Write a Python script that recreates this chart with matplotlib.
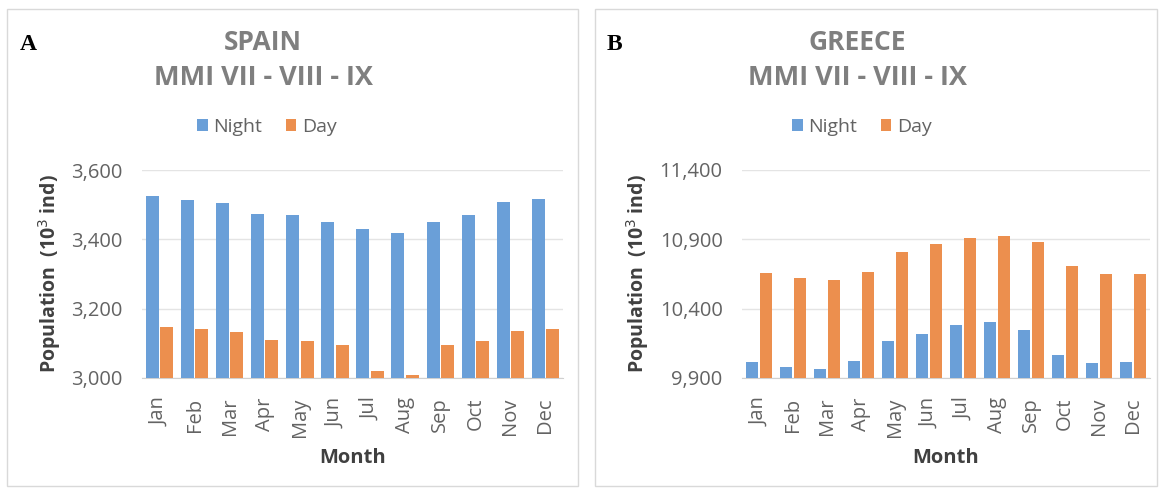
import numpy as np
import matplotlib
matplotlib.use('Agg')
from matplotlib import pyplot as plt
from matplotlib import rcParams
from matplotlib.patches import Rectangle
from matplotlib.ticker import FuncFormatter

rcParams['font.family'] = ['Open Sans', 'DejaVu Sans']

months = ['Jan', 'Feb', 'Mar', 'Apr', 'May', 'Jun',
          'Jul', 'Aug', 'Sep', 'Oct', 'Nov', 'Dec']

# Spain, 10^3 inhabitants
spain_night = [3526, 3513, 3504, 3472, 3469, 3449, 3431, 3419, 3449, 3469, 3509, 3516]
spain_day = [3148, 3141, 3132, 3110, 3108, 3095, 3021, 3010, 3095, 3108, 3137, 3142]

# Greece, 10^3 inhabitants
greece_night = [10013, 9977, 9965, 10025, 10167, 10217, 10282, 10301, 10244, 10068, 10006, 10013]
greece_day = [10655, 10621, 10607, 10664, 10806, 10864, 10907, 10924, 10883, 10705, 10648, 10648]

blue = '#6A9FD8'
orange = '#EC8F4E'
gray_txt = '#636363'

W, H = 1161, 488
fig = plt.figure(figsize=(W / 100, H / 100), dpi=100)

def px(x0, y0, x1, y1):
    return [x0 / W, 1 - y1 / H, (x1 - x0) / W, (y1 - y0) / H]

# panel frames
for x0, x1 in [(7, 578), (595, 1157)]:
    fig.patches.append(Rectangle((x0 / W, 1 - 486 / H), (x1 - x0) / W, (486 - 9) / H,
                                 transform=fig.transFigure, fill=False,
                                 edgecolor='#d9d9d9', linewidth=1))

panels = [
    dict(name='SPAIN', tag='A', night=spain_night, day=spain_day,
         box=(142, 170, 563, 378), ylim=(3000, 3600), step=200,
         xc=263, legc=267, tagx=20),
    dict(name='GREECE', tag='B', night=greece_night, day=greece_day,
         box=(742, 170, 1150, 378), ylim=(9900, 11400), step=500,
         xc=857, legc=862, tagx=607),
]

x = np.arange(len(months))
bw = 0.37
for p in panels:
    x0, y0, x1, y1 = p['box']
    ax = fig.add_axes(px(*p['box']))
    ax.bar(x - bw / 2 - 0.02, p['night'], width=bw, color=blue, label='Night', zorder=3)
    ax.bar(x + bw / 2 + 0.02, p['day'], width=bw, color=orange, label='Day', zorder=3)
    ax.set_ylim(p['ylim'])
    ax.set_xlim(-0.5, 11.5)
    ax.set_yticks(np.arange(p['ylim'][0], p['ylim'][1] + 1, p['step']))
    ax.yaxis.set_major_formatter(FuncFormatter(lambda v, pos: f'{int(v):,}'))
    ax.set_xticks(x)
    ax.set_xticklabels(months, rotation=90)
    ax.tick_params(length=0, labelsize=14.5, colors=gray_txt)
    ax.tick_params(axis='y', pad=14)
    ax.tick_params(axis='x', pad=14)
    ax.grid(axis='y', color='#e4e4e4', linewidth=1, zorder=0)
    for s in ['top', 'right', 'left']:
        ax.spines[s].set_visible(False)
    ax.spines['bottom'].set_color('#d0d0d0')
    ax.set_ylabel('Population  (10$^3$ ind)', fontsize=14, fontweight='bold',
                  color='#404040', labelpad=6)
    ax.set_xlabel('Month', fontsize=14.5, fontweight='bold', color='#404040', labelpad=8)

    fig.text(p['xc'] / W, 1 - 42 / H, p['name'], ha='center', va='center',
             fontsize=19, fontweight='bold', color='#7f7f7f')
    fig.text(p['xc'] / W, 1 - 78 / H, 'MMI VII - VIII - IX', ha='center', va='center',
             fontsize=19.5, fontweight='bold', color='#7f7f7f')
    fig.text(p['tagx'] / W, 1 - 44 / H, p['tag'], ha='left', va='center',
             fontsize=17, fontweight='bold', family='Liberation Serif', color='black')
    ax.legend(loc='center', bbox_to_anchor=((p['legc'] - x0) / (x1 - x0), (y1 - 127) / (y1 - y0)),
              ncol=2, frameon=False, fontsize=14, handlelength=0.55, handleheight=0.55,
              handletextpad=0.3, columnspacing=1.2, labelcolor=gray_txt)

fig.savefig('out.png', dpi=100)
